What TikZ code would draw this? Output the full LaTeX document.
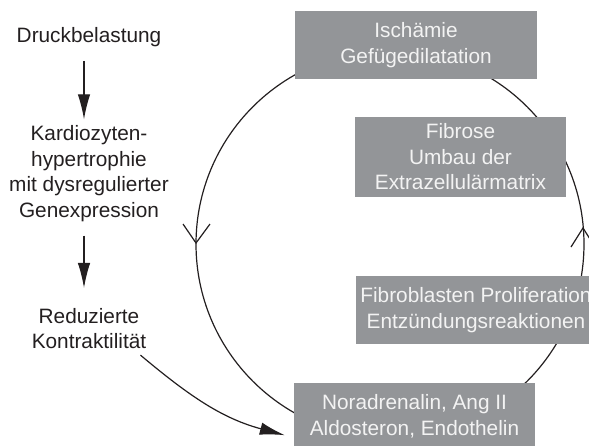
\documentclass[tikz,border=0pt]{standalone}
\usepackage{fontspec}
\setmainfont{Liberation Sans}
\usetikzlibrary{arrows.meta}
\definecolor{boxgray}{RGB}{147,149,152}
\definecolor{boxtext}{RGB}{243,243,243}
\definecolor{ink}{RGB}{35,31,32}
\begin{document}
\begin{tikzpicture}[x=1pt,y=-1pt,
  every node/.style={font=\fontsize{20.8}{25.5}\selectfont},
  lbl/.style={text=ink, align=center, inner sep=0pt},
  gbox/.style={fill=boxgray, text=boxtext, align=center, inner sep=0pt},
  flow/.style={draw=ink, line width=1.2pt, -{Latex[length=25pt,width=12.5pt]}},
  cyc/.style={draw=ink, line width=1.2pt}]
\useasboundingbox (0,0) rectangle (589,445);
\clip (0,0) rectangle (589,445);
% cycle
\draw[cyc] (390,244) circle[radius=194];
\draw[cyc] (183,224) -- (196,243) -- (210,224);
\draw[cyc] (571,247) -- (583,228) -- (595,247);
% boxes
\node[gbox, minimum width=242pt, minimum height=68pt] (isch) at (416,45) {Ischämie\\Gefügedilatation};
\node[gbox, minimum width=211pt, minimum height=80pt] (fibr) at (460.5,157) {Fibrose\\Umbau der\\Extrazellulärmatrix};
\node[gbox, minimum width=240pt, minimum height=68pt] (fibro) at (476,310) {Fibroblasten Proliferation\\Entzündungsreaktionen};
\node[gbox, minimum width=241pt, minimum height=67pt] (nor) at (414.5,416.5) {Noradrenalin, Ang II\\Aldosteron, Endothelin};
% left chain
\node[lbl] (druck) at (89,37) {Druckbelastung};
\node[lbl] (kardio) at (89,173.5) {Kardiozyten-\\hypertrophie\\mit dysregulierter\\Genexpression};
\node[lbl] (reduz) at (89,328.5) {Reduzierte\\Kontraktilität};
\draw[flow, shorten <=14pt, shorten >=6pt] ([xshift=-5pt]druck.south) -- ([xshift=-5pt]kardio.north);
\draw[flow, shorten <=14pt, shorten >=20pt] ([xshift=-5pt]kardio.south) -- ([xshift=-5pt]reduz.north);
\draw[flow] ([shift={(-6,6)}]reduz.south east) to[out=-40,in=165] ([shift={(-9,-15)}]nor.south west);
\end{tikzpicture}
\end{document}
